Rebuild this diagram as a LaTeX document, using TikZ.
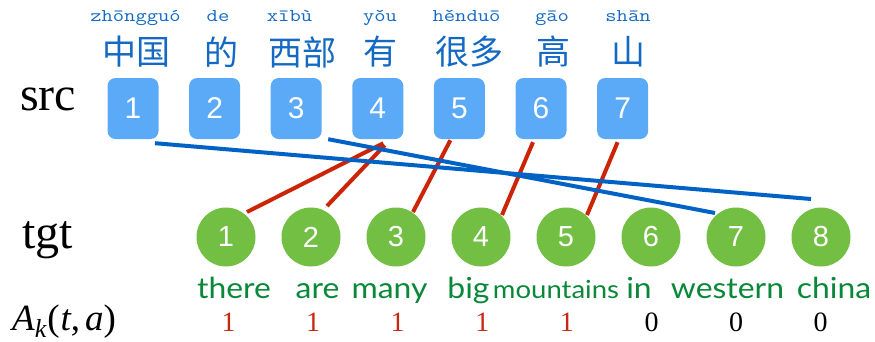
\documentclass[tikz,border=0pt]{standalone}
\usepackage{fontspec}
\setmainfont{Liberation Serif}
\newfontfamily\cjkfont{Noto Sans CJK SC}
\newfontfamily\numfont{Liberation Sans}
\newfontfamily\pyfont[FakeStretch=1.22]{Latin Modern Mono}
\newfontfamily\wordfont[FakeStretch=1.1]{Lato}
\usetikzlibrary{calc,backgrounds}
\definecolor{boxblue}{RGB}{90,170,248}
\definecolor{zhblue}{RGB}{20,105,195}
\definecolor{lineblue}{RGB}{0,98,196}
\definecolor{linered}{RGB}{204,36,6}
\definecolor{tgtgreen}{RGB}{114,191,68}
\definecolor{wordgreen}{RGB}{8,136,56}
\definecolor{numred}{RGB}{200,38,14}
\tikzset{
  srcbox/.style={fill=boxblue, rounded corners=8pt, minimum width=51pt, minimum height=61pt, inner sep=0pt, text=white, font=\numfont\fontsize{30}{30}\selectfont},
  tgtnode/.style={circle, fill=tgtgreen, minimum size=59pt, inner sep=0pt, text=white, font=\numfont\fontsize{29}{29}\selectfont},
  pinyin/.style={anchor=base, inner sep=0pt, text=zhblue, font=\pyfont\fontsize{18}{18}\selectfont},
  zh/.style={anchor=center, inner sep=0pt, text=zhblue, font=\cjkfont\fontsize{34}{34}\selectfont},
  word/.style={anchor=base, inner sep=0pt, text=wordgreen, font=\wordfont\fontsize{29}{29}\selectfont},
  smallword/.style={word, font=\wordfont\fontsize{25}{25}\selectfont},
  label/.style={anchor=base west, inner sep=0pt, font=\fontsize{48}{48}\selectfont},
  aval/.style={anchor=base, inner sep=0pt, font=\fontsize{28}{28}\selectfont},
  redlink/.style={draw=linered, line width=4pt},
  bluelink/.style={draw=lineblue, line width=4pt}
}
\begin{document}
\begin{tikzpicture}[x=1pt,y=-1pt]
\useasboundingbox (0,0) rectangle (875,341);
% source boxes
\foreach \i in {1,...,7} \node[srcbox] (s\i) at ({133+81.6*(\i-1)},108.5) {\i};
% target circles
\foreach \i in {1,...,8} \node[tgtnode] (t\i) at ({226+85*(\i-1)},237) {\i};
% pinyin
\node[pinyin] (py1) at (135.5,21) {zhōngguó};
\node[pinyin] (py2) at (218,21) {de};
\node[pinyin] (py3) at (289.5,21) {xībù};
\node[pinyin] (py4) at (380,21) {yǒu};
\node[pinyin] (py5) at (466.5,21) {hěnduō};
\node[pinyin] (py6) at (552,21) {gāo};
\node[pinyin] (py7) at (628,21) {shān};
% chinese
\node[zh] (zh1) at (136,52) {中国};
\node[zh] (zh2) at (221,52) {的};
\node[zh] (zh3) at (302,52) {西部};
\node[zh] (zh4) at (380,52) {有};
\node[zh] (zh5) at (469,52) {很多};
\node[zh] (zh6) at (553,52) {高};
\node[zh] (zh7) at (628,52) {山};
% labels
\node[label] (srclbl) at (20,110) {src};
\node[label] (tgtlbl) at (22,248) {tgt};
\node[anchor=base west, inner sep=0pt, font=\fontsize{37}{37}\selectfont] (alabel) at (12,330)
  {{\itshape A}\raisebox{-0.2em}{\fontsize{26}{26}\selectfont\itshape k}\kern1pt(\kern1pt{\itshape t},\kern5pt{\itshape a})};
% words
\node[word] (w1) at (234,298) {there};
\node[word] (w2) at (317.5,298) {are};
\node[word] (w3) at (389.5,298) {many};
\node[word] (w4) at (468.5,298) {big};
\node[smallword] (w5) at (556,298) {mountains};
\node[word] (w6) at (639,298) {in};
\node[word] (w7) at (727.5,298) {western};
\node[word] (w8) at (834,298) {china};
% A values
\foreach \i in {1,...,5} \node[aval, text=numred] (a\i) at ({228.5+84.6*(\i-1)},331) {1};
\foreach \i in {6,7,8} \node[aval] (a\i) at ({228.5+84.6*(\i-1)},331) {0};
% links
\begin{scope}[on background layer]
\draw[redlink] ($(s4.south)+(5.5,4)$) -- ($(t1.center)+(21,-25)$);
\draw[redlink] ($(s4.south)+(7,6)$) -- ($(t2.center)+(16,-31)$);
\draw[redlink] ($(s5.south)+(-9,1)$) -- ($(t3.center)+(17,-25)$);
\draw[redlink] ($(s6.south)+(-8,3)$) -- ($(t4.center)+(21,-22)$);
\draw[redlink] ($(s7.south)+(-5,3)$) -- ($(t5.center)+(21,-22)$);
\draw[bluelink] ($(s1.south)+(22,4)$) -- ($(t8.center)+(-10,-38)$);
\draw[bluelink] ($(s3.south)+(32,0)$) -- ($(t7.center)+(-21,-24)$);
\end{scope}
\end{tikzpicture}
\end{document}
